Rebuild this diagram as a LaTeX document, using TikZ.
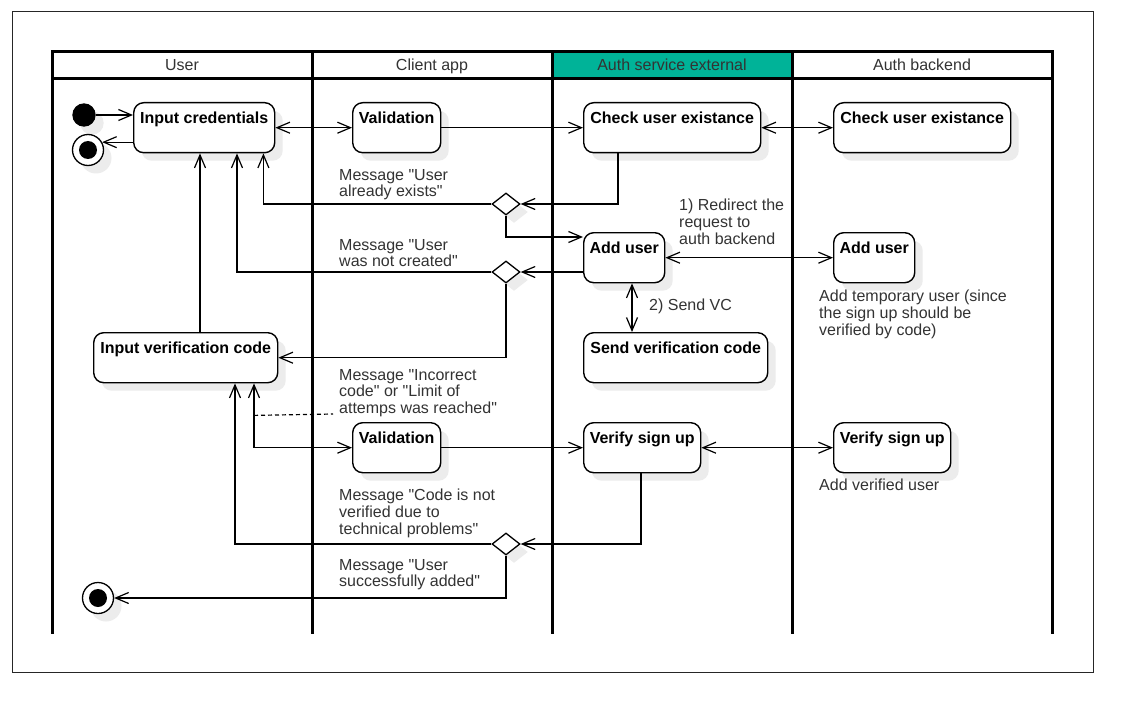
\documentclass[tikz,border=0pt]{standalone}
\usepackage{fontspec}
\setmainfont{Liberation Sans}[Ligatures=TeXOff]
\usetikzlibrary{arrows.meta,shapes.geometric,shadows,calc}
\definecolor{tealhead}{RGB}{0,179,152}
\definecolor{txt}{RGB}{51,51,51}
\definecolor{shade}{RGB}{236,236,236}
\begin{document}
\begin{tikzpicture}[x=1pt,y=-1pt,
  every node/.style={font=\fontsize{16}{16.7}\selectfont},
  shad/.style={drop shadow={shadow xshift=8pt,shadow yshift=-8pt,fill=shade,opacity=1}},
  act/.style={draw,line width=1.4pt,rounded corners=10pt,fill=white,shad,
    inner xsep=4pt,inner ysep=0pt,text height=21pt,text depth=29pt,
    minimum height=50pt,anchor=north west,
    font=\fontsize{16}{16.7}\selectfont\bfseries},
  dec/.style={diamond,draw,line width=1.3pt,fill=white,shad,inner sep=0pt,
    minimum width=28pt,minimum height=22pt},
  startnode/.style={circle,fill=black,inner sep=0pt,minimum size=23.4pt,shad},
  endnode/.style={circle,draw,line width=1.3pt,fill=white,inner sep=0pt,
    minimum size=31pt,shad,
    path picture={\fill[black] (path picture bounding box.center) circle (9pt);}},
  lbl/.style={align=left,text=txt,inner sep=0pt,anchor=north west},
  head/.style={text=txt,inner sep=0pt,anchor=base},
  lane/.style={line width=3pt,line cap=rect},
  tipb/.tip={Straight Barb[length=13pt,width=11pt]},
  arr/.style={line width=1.2pt,-tipb},
  dbl/.style={line width=1.2pt,tipb-tipb}
]
\fill[white] (0,0) rectangle (1142,722);
\useasboundingbox (0,0) rectangle (1142,722);
\draw[line width=1pt,black!85] (12,12) rectangle (1093,672);

% swimlanes
\fill[tealhead] (552,52) rectangle (792,79);
\draw[lane] (52,52) -- (1052,52);
\draw[lane] (52,79) -- (1052,79);
\foreach \x in {52,312,552,792,1052} \draw[lane] (\x,52) -- (\x,632);
\node[head] (hUser) at (182,70.5) {User};
\node[head] (hClient) at (432,70.5) {Client app};
\node[head] (hExt) at (672,70.5) {Auth service external};
\node[head] (hBack) at (922,70.5) {Auth backend};

% nodes
\node[startnode] (start) at (84,115) {};
\node[endnode] (endA) at (88,150) {};
\node[endnode] (endB) at (98,598) {};

\node[act,minimum width=141pt] (ic) at (133,102) {Input credentials};
\node[act,minimum width=88pt] (v1) at (352,102) {Validation};
\node[act,minimum width=177pt] (cx) at (583,102) {Check user existance};
\node[act,minimum width=177pt] (cb) at (833,102) {Check user existance};
\node[act,minimum width=81pt] (ax) at (583,232) {Add user};
\node[act,minimum width=81pt] (ab) at (833,232) {Add user};
\node[act,minimum width=184pt] (sv) at (583,332) {Send verification code};
\node[act,minimum width=184pt] (ivc) at (93,332) {Input verification code};
\node[act,minimum width=88pt] (v2) at (352,422) {Validation};
\node[act,minimum width=117pt] (vx) at (583,422) {Verify sign up};
\node[act,minimum width=117pt] (vb) at (833,422) {Verify sign up};

\node[dec] (d1) at (506,204) {};
\node[dec] (d2) at (506,272) {};
\node[dec] (d3) at (506,544) {};

% labels
\node[lbl] (l1) at (339,169) {Message "User\\already exists"};
\node[lbl] (l2) at (339,239) {Message "User\\was not created"};
\node[lbl] (l3) at (679,199) {1) Redirect the\\request to\\auth backend};
\node[lbl] (l4) at (649,299) {2) Send VC};
\node[lbl] (l5) at (819,290) {Add temporary user (since\\the sign up should be\\verified by code)};
\node[lbl] (l6) at (339,369) {Message "Incorrect\\code" or "Limit of\\attemps was reached"};
\node[lbl] (l7) at (819,479) {Add verified user};
\node[lbl] (l8) at (339,489) {Message "Code is not\\verified due to\\technical problems"};
\node[lbl] (l9) at (339,559) {Message "User\\successfully added"};
\coordinate (dashEnd) at (333,414);

% connectors
\draw[arr] (start.east) -- (start.east -| ic.west);
\draw[arr] (ic.west |- endA.29) -- (endA.29);
\draw[dbl] (ic.east) -- (v1.west);
\draw[arr] (v1.east) -- (cx.west);
\draw[dbl] (cx.east) -- (cb.west);
\draw[arr] ($(cx.south west)+(35,0)$) |- (d1.east);
\draw[arr] (d1.west) -| ($(ic.south east)+(-12,0)$);
\draw[arr] (d1.south) |- ($(ax.north west)+(0,5)$);
\draw[arr] ($(ax.north west)+(0,40)$) -- (d2.east);
\draw[arr] (d2.west) -| ($(ic.south west)+(104,0)$);
\draw[arr] (d2.south) |- (ivc.east);
\draw[arr] ($(ivc.north west)+(107,0)$) -- ($(ic.south west)+(67,0)$);
\draw[dbl] (ax.east) -- (ab.west);
\draw[dbl] ($(ax.south west)+(49,0)$) -- ($(sv.north west)+(49,0)$);
\draw[dbl] ($(ivc.south west)+(161,0)$) |- (v2.west);
\draw[line width=1.2pt,dash pattern=on 4pt off 3pt] ($(ivc.south west)+(161,32)$) -- (dashEnd);
\draw[arr] (v2.east) -- (vx.west);
\draw[dbl] (vx.east) -- (vb.west);
\draw[arr] ($(vx.south west)+(58,0)$) |- (d3.east);
\draw[arr] (d3.west) -| ($(ivc.south west)+(142,0)$);
\draw[arr] (d3.south) |- (endB.east);
\end{tikzpicture}
\end{document}
